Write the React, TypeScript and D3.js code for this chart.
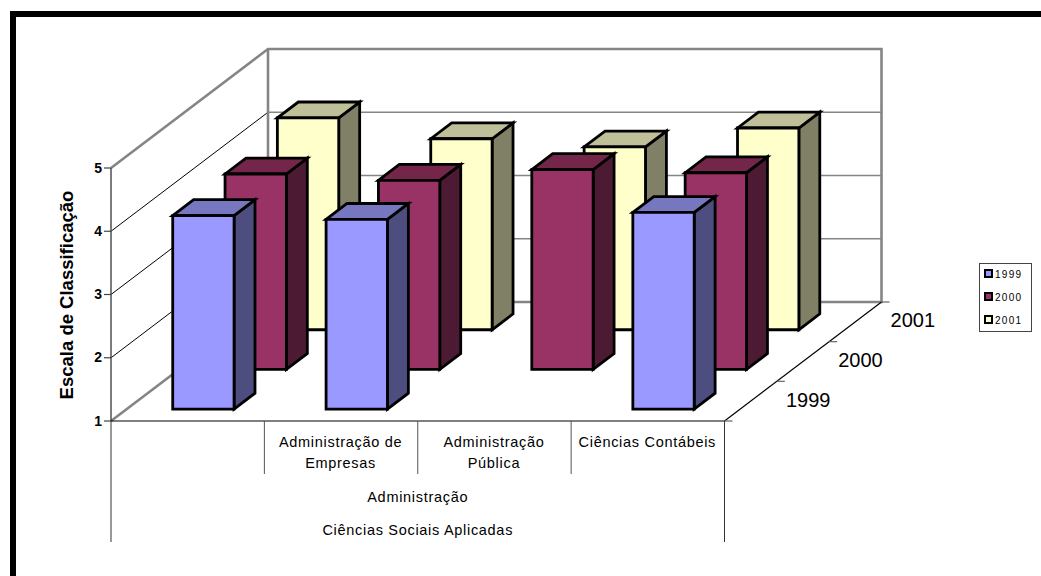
import React from "react";
import * as d3 from "d3";

const categories = ["", "Administração de|Empresas", "Administração|Pública", "Ciências Contábeis"];
const seriesNames = ["1999", "2000", "2001"];
const values1999: (number | null)[] = [4.06, 4.0, null, 4.11];
const values2000: (number | null)[] = [4.09, 3.99, 4.16, 4.11];
const values2001: (number | null)[] = [4.35, 4.02, 3.89, 4.19];
const yTicks = [1, 2, 3, 4, 5];
const groupLevel1 = "Administração";
const groupLevel2 = "Ciências Sociais Aplicadas";
const axisTitle = "Escala de Classificação";

const faceFront = ["#9999FF", "#993366", "#FFFFCC"];
const faceTop = ["#7777BF", "#732649", "#BFBF99"];
const faceSide = ["#4D4D80", "#4D1A33", "#808066"];
const wallGray = "#858585";

// Oblique projection: category runs right, value runs up, depth runs back and to the right.
const catX = d3.scaleLinear().domain([0, categories.length]).range([111, 724.5]);
const valueLift = d3.scaleLinear().domain([1, 5]).range([0, 253]);
const depthX = d3.scaleLinear().domain([0, 1]).range([0, 157]);
const depthLift = d3.scaleLinear().domain([0, 1]).range([0, 119]);
const baseY = 421;

type P = [number, number];
const project = (c: number, v: number, d: number): P => [
  catX(c) + depthX(d),
  baseY - valueLift(v) - depthLift(d),
];
const poly = d3.line<P>().curve(d3.curveLinearClosed);
const seg = (a: P, b: P) => d3.line<P>()([a, b]) as string;

const barPad = 0.3; // share of a category or depth slot left empty on each side
const slots = seriesNames.length;

function Bar({ c, s, v }: { c: number; s: number; v: number }) {
  const x0 = c + barPad;
  const x1 = c + 1 - barPad;
  const d0 = (s + barPad) / slots;
  const d1 = (s + 1 - barPad) / slots;
  const front = [project(x0, 1, d0), project(x1, 1, d0), project(x1, v, d0), project(x0, v, d0)];
  const side = [project(x1, 1, d0), project(x1, 1, d1), project(x1, v, d1), project(x1, v, d0)];
  const top = [project(x0, v, d0), project(x1, v, d0), project(x1, v, d1), project(x0, v, d1)];
  const common = { stroke: "#000", strokeWidth: 2.8, strokeLinejoin: "miter" as const };
  return (
    <g>
      <path d={poly(side) as string} fill={faceSide[s]} {...common} />
      <path d={poly(top) as string} fill={faceTop[s]} {...common} />
      <path d={poly(front) as string} fill={faceFront[s]} {...common} />
    </g>
  );
}

export default function App() {
  const table = [values1999, values2000, values2001];
  const font = "'Liberation Sans', Arial, sans-serif";
  const nCat = categories.length;
  return (
    <svg
      width={1041}
      height={576}
      style={{ position: "absolute", left: 0, top: 0, background: "#fff" }}
      fontFamily={font}
    >
      {/* Outer frame, only its top and left edges fall inside the view */}
      <path d="M13,576V14H1041" fill="none" stroke="#000" strokeWidth={6} />

      {/* Back wall */}
      {yTicks.slice(1, -1).map((t) => (
        <path key={t} d={seg(project(0, t, 1), project(nCat, t, 1))} stroke={wallGray} strokeWidth={1.4} fill="none" />
      ))}
      {/* Side wall gridlines */}
      {yTicks.slice(1, -1).map((t) => (
        <path key={t} d={seg(project(0, t, 0), project(0, t, 1))} stroke="#000" strokeWidth={1} fill="none" />
      ))}
      <path
        d={d3.line<P>()([project(0, 5, 0), project(0, 5, 1), project(nCat, 5, 1), project(nCat, 1, 1), project(0, 1, 1), project(0, 1, 0)]) as string}
        stroke={wallGray}
        strokeWidth={2.6}
        fill="none"
      />
      <path d={seg(project(0, 5, 1), project(0, 1, 1))} stroke={wallGray} strokeWidth={2.6} fill="none" />
      <path d={seg(project(0, 1, 0), project(0, 5, 0))} stroke="#444" strokeWidth={1.4} fill="none" />

      {/* Floor edges */}
      <path d={seg(project(0, 1, 0), project(nCat, 1, 0))} stroke="#000" strokeWidth={1.2} fill="none" />
      <path d={seg(project(nCat, 1, 0), project(nCat, 1, 1))} stroke="#000" strokeWidth={1.2} fill="none" />

      {/* Bars, painted from the back row to the front row */}
      {[2, 1, 0].map((s) =>
        table[s].map((v, c) => (v === null ? null : <Bar key={`${s}-${c}`} c={c} s={s} v={v} />))
      )}

      {/* Value axis */}
      {yTicks.map((t) => {
        const [x, y] = project(0, t, 0);
        return (
          <g key={t}>
            <path d={`M${x - 7},${y}H${x}`} stroke="#444" strokeWidth={1.2} />
            <text x={x - 9} y={y + 4.5} textAnchor="end" fontSize={14} fontWeight="bold" fill="#000">
              {t}
            </text>
          </g>
        );
      })}
      <text
        transform="translate(73,295) rotate(-90)"
        textAnchor="middle"
        fontSize={18.5}
        fontWeight="bold"
        fill="#000"
      >
        {axisTitle}
      </text>

      {/* Depth axis */}
      {seriesNames.map((name, s) => {
        const [tx, ty] = project(nCat, 1, (s + 1) / slots);
        const [lx, ly] = project(nCat, 1, (s + 0.5) / slots);
        return (
          <g key={name}>
            <path d={`M${tx},${ty}h8`} stroke="#666" strokeWidth={1.2} />
            <text x={lx + 57.5} y={ly + 5.5} textAnchor="middle" fontSize={20} fill="#000">
              {name}
            </text>
          </g>
        );
      })}
      <path d={`M${project(nCat, 1, 0)[0]},${baseY}h8`} stroke="#666" strokeWidth={1.2} />

      {/* Multi-level category axis */}
      {[0, nCat].map((c) => (
        <path key={c} d={`M${catX(c)},${baseY}V542`} stroke="#333" strokeWidth={1} fill="none" />
      ))}
      {d3.range(1, nCat).map((c) => (
        <path key={c} d={`M${catX(c)},${baseY}V474`} stroke="#555" strokeWidth={1} fill="none" />
      ))}
      {categories.map((label, c) =>
        label.split("|").map((line, i) => (
          <text
            key={`${c}-${i}`}
            x={catX(c + 0.5) - 0.5}
            y={446.5 + i * 21.5}
            textAnchor="middle"
            fontSize={14.5}
            letterSpacing={0.7}
            fill="#000"
          >
            {line}
          </text>
        ))
      )}
      <text x={catX(2)} y={502} textAnchor="middle" fontSize={14.5} letterSpacing={0.7} fill="#000">
        {groupLevel1}
      </text>
      <text x={catX(2)} y={535} textAnchor="middle" fontSize={14.5} letterSpacing={0.7} fill="#000">
        {groupLevel2}
      </text>

      {/* Legend */}
      <rect x={979.5} y={263.5} width={52} height={68} fill="#fff" stroke="#444" strokeWidth={1} />
      {seriesNames.map((name, s) => (
        <g key={name}>
          <rect x={985} y={270 + s * 23} width={7} height={7} fill={faceFront[s]} stroke="#000" strokeWidth={2} />
          <text x={995} y={278 + s * 23} fontSize={10} letterSpacing={1.3} fill="#000">
            {name}
          </text>
        </g>
      ))}
    </svg>
  );
}
